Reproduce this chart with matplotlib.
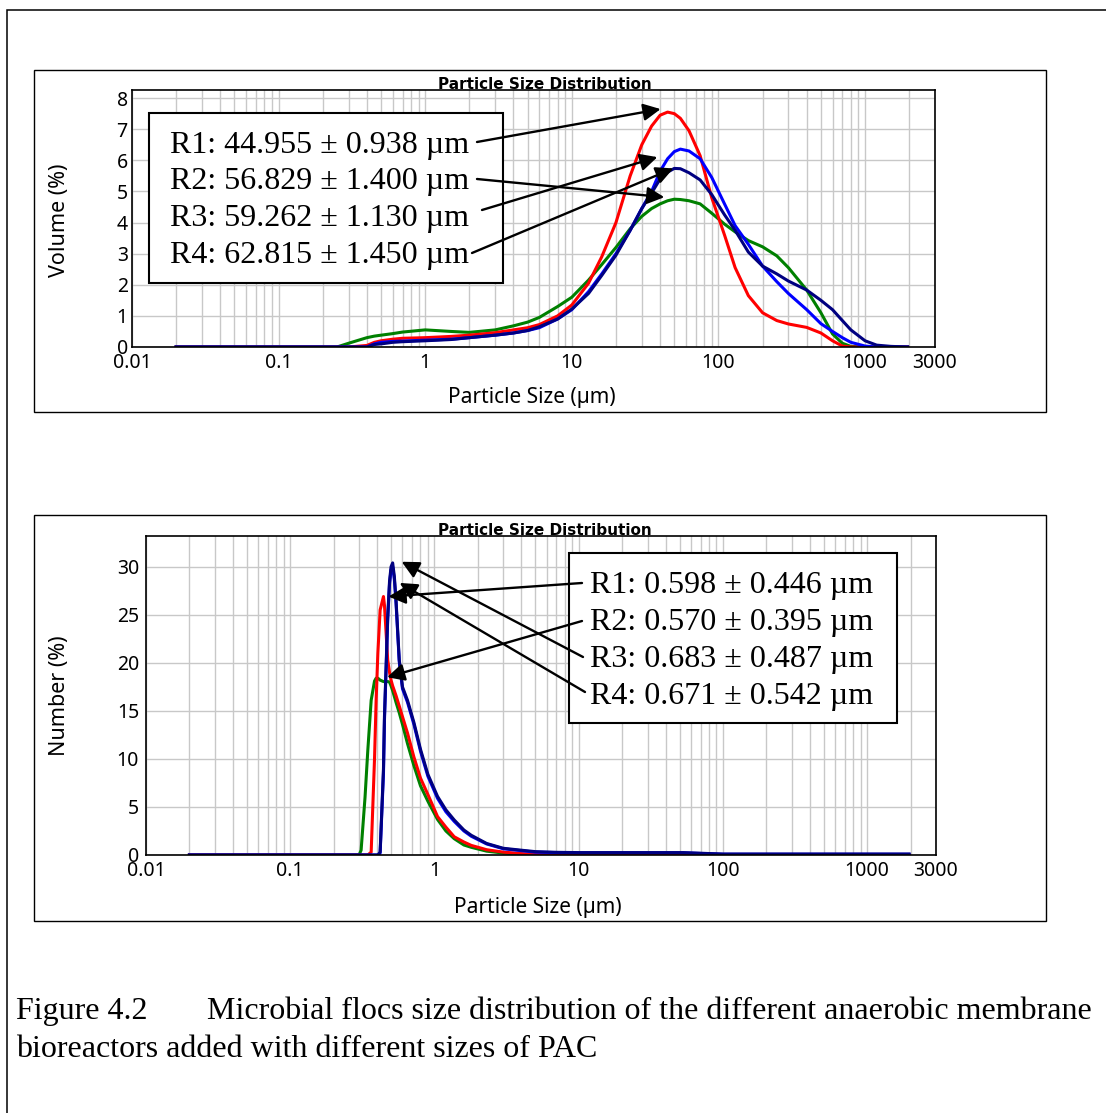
import matplotlib
matplotlib.use('Agg')
import matplotlib.pyplot as plt
import matplotlib.transforms as mtrans
from matplotlib.patches import Rectangle
from matplotlib.ticker import FixedLocator, FixedFormatter, LogLocator, NullFormatter
import numpy as np

plt.rcParams['font.family'] = ['Noto Sans', 'DejaVu Sans']

# ---- data: volume distribution (upper panel) ----
size_vol = [0.02, 0.25, 0.3, 0.4, 0.45, 0.5, 0.6, 0.7, 1, 1.5, 2, 3, 4, 5, 6, 8,
            10, 13, 16, 20, 25, 30, 35, 40, 45, 50, 55, 63, 75, 90, 110, 130,
            160, 200, 250, 300, 400, 500, 600, 700, 800, 1000, 1200, 1500, 1950]
r1_vol = [0, 0, 0, 0.05, 0.15, 0.2, 0.25, 0.28, 0.3, 0.34, 0.38, 0.46, 0.55, 0.62, 0.72, 1.0,
          1.35, 2.05, 2.9, 4.0, 5.5, 6.5, 7.1, 7.45, 7.55, 7.5, 7.35, 6.95, 6.15, 4.8, 3.6, 2.55,
          1.65, 1.1, 0.85, 0.74, 0.63, 0.45, 0.2, 0.03, 0, 0, 0, 0, 0]
r2_vol = [0, 0, 0.12, 0.3, 0.35, 0.38, 0.43, 0.48, 0.55, 0.5, 0.47, 0.55, 0.68, 0.8, 0.95, 1.3,
          1.6, 2.15, 2.65, 3.2, 3.8, 4.2, 4.45, 4.6, 4.7, 4.75, 4.74, 4.7, 4.6, 4.3, 3.95, 3.7,
          3.42, 3.22, 2.93, 2.55, 1.83, 1.1, 0.42, 0.12, 0.02, 0, 0, 0, 0]
r3_vol = [0, 0, 0, 0, 0.1, 0.15, 0.18, 0.19, 0.22, 0.25, 0.3, 0.38, 0.45, 0.53, 0.62, 0.9,
          1.2, 1.78, 2.35, 3.0, 3.75, 4.45, 5.0, 5.65, 6.05, 6.28, 6.36, 6.3, 6.05, 5.45, 4.6, 3.9,
          3.3, 2.6, 2.1, 1.72, 1.2, 0.75, 0.5, 0.3, 0.15, 0.03, 0, 0, 0]
r4_vol = [0, 0, 0, 0, 0.08, 0.1, 0.15, 0.17, 0.2, 0.24, 0.3, 0.38, 0.45, 0.53, 0.65, 0.9,
          1.22, 1.72, 2.3, 2.95, 3.75, 4.45, 4.95, 5.4, 5.62, 5.74, 5.73, 5.6, 5.37, 4.9, 4.25, 3.75,
          3.05, 2.6, 2.35, 2.12, 1.83, 1.5, 1.2, 0.85, 0.55, 0.2, 0.06, 0.02, 0]

# ---- data: number distribution (lower panel) ----
size_num = [0.02, 0.3, 0.31, 0.33, 0.345, 0.364, 0.384, 0.394, 0.405, 0.42, 0.443, 0.45, 0.474, 0.488, 0.5, 0.513,
            0.527, 0.541, 0.57, 0.6, 0.65, 0.72, 0.8, 0.9, 1.05, 1.2, 1.37, 1.6, 1.8, 2.3, 3, 4,
            5, 7, 10, 20, 30, 53, 100, 300, 1000, 1950]
r1_num = [0, 0, 0, 0, 0, 0.3, 10, 16.1, 21, 25.5, 26.9, 26, 20.3, 19, 18.2, 17.6,
          17.1, 16.6, 15.5, 14.4, 12.7, 10.2, 8.0, 6.3, 4.0, 2.9, 1.9, 1.35, 1.0, 0.55, 0.3, 0.15,
          0.08, 0.03, 0, 0, 0, 0, 0, 0, 0, 0]
r2_num = [0, 0, 0.5, 6, 10.9, 16.1, 18.1, 18.4, 18.4, 18.2, 18.05, 18.05, 18.05, 18.0, 17.6, 17.1,
          16.5, 15.9, 14.8, 13.6, 11.6, 9.3, 7.2, 5.6, 3.7, 2.5, 1.7, 1.04, 0.8, 0.4, 0.2, 0.08,
          0.03, 0, 0, 0, 0, 0, 0, 0, 0, 0]
r3_num = [0, 0, 0, 0, 0, 0, 0, 0, 0, 0.2, 8.5, 14, 24.5, 28.2, 29.7, 30.0,
          28.7, 26.3, 20.1, 17.3, 15.9, 13.6, 10.8, 8.2, 5.9, 4.5, 3.5, 2.5, 1.95, 1.15, 0.65, 0.45,
          0.3, 0.25, 0.22, 0.22, 0.22, 0.22, 0.08, 0.08, 0.08, 0.08]
r4_num = [0, 0, 0, 0, 0, 0, 0, 0, 0, 0.3, 9, 14.4, 24.8, 28.5, 30.0, 30.4,
          29.0, 26.6, 20.3, 17.5, 16.1, 13.8, 11.0, 8.4, 6.1, 4.7, 3.65, 2.6, 2.05, 1.2, 0.7, 0.5,
          0.35, 0.28, 0.25, 0.25, 0.25, 0.25, 0.1, 0.1, 0.1, 0.1]

vol_labels = ['R1: 44.955 \u00b1 0.938 \u00b5m', 'R2: 56.829 \u00b1 1.400 \u00b5m',
              'R3: 59.262 \u00b1 1.130 \u00b5m', 'R4: 62.815 \u00b1 1.450 \u00b5m']
num_labels = ['R1: 0.598 \u00b1 0.446 \u00b5m', 'R2: 0.570 \u00b1 0.395 \u00b5m',
              'R3: 0.683 \u00b1 0.487 \u00b5m', 'R4: 0.671 \u00b1 0.542 \u00b5m']

xtick_vals = [0.01, 0.1, 1, 10, 100, 1000, 3000]
xtick_labels = ['0.01', '0.1', '1', '10', '100', '1000', '3000']
colors = ['red', 'green', 'blue', 'navy']

W, H = 1106, 1113


def fx(px):
    return px / W


def fy(py):
    return 1 - py / H


fig = plt.figure(figsize=(W / 100, H / 100), dpi=100)

# outer page frame and panel frames
fig.add_artist(Rectangle((fx(7), fy(1300)), 1.2, 1290 / H, transform=fig.transFigure,
                         fill=False, ec='black', lw=1.1))
for top, bot in [(70, 412), (515, 921)]:
    fig.add_artist(Rectangle((fx(34), fy(bot)), (1046 - 34) / W, (bot - top) / H,
                             transform=fig.transFigure, fill=False, ec='black', lw=1.0))


def setup(ax, ymax, yticks, ypad):
    ax.set_xscale('log')
    ax.set_xlim(0.01, 3000)
    ax.set_ylim(0, ymax)
    ax.xaxis.set_major_locator(FixedLocator(xtick_vals))
    ax.xaxis.set_major_formatter(FixedFormatter(xtick_labels))
    ax.xaxis.set_minor_locator(LogLocator(base=10, subs=np.arange(2, 10), numticks=30))
    ax.xaxis.set_minor_formatter(NullFormatter())
    ax.set_yticks(yticks)
    ax.tick_params(which='both', length=0, labelsize=14)
    ax.tick_params(axis='x', pad=4)
    ax.tick_params(axis='y', pad=ypad)
    ax.set_axisbelow(True)
    ax.grid(True, which='both', axis='x', color='#c8c8c8', lw=1.0)
    ax.grid(True, which='major', axis='y', color='#c8c8c8', lw=1.0)
    for s in ax.spines.values():
        s.set_linewidth(1.2)
        s.set_color('black')


ax1 = fig.add_axes([fx(132), fy(347), (935 - 132) / W, (347 - 90) / H])
setup(ax1, 8.26, range(0, 9), 3)
ax2 = fig.add_axes([fx(146), fy(855), (936 - 146) / W, (855 - 536) / H])
setup(ax2, 33.2, range(0, 31, 5), 5)

vol_series = [r1_vol, r2_vol, r3_vol, r4_vol]
num_series = [r1_num, r2_num, r3_num, r4_num]
for i in [1, 0, 2, 3]:
    ax1.plot(size_vol, vol_series[i], color=colors[i], lw=2.2)
    ax2.plot(size_num, num_series[i], color=colors[i], lw=2.2)

# titles and axis labels
for y in [89, 535]:
    fig.text(fx(545), fy(y), 'Particle Size Distribution', ha='center', va='baseline',
             weight='bold', size=11, family='DejaVu Sans')
fig.text(fx(59), fy(220), 'Volume (%)', rotation=90, ha='center', va='center', size=15.5)
fig.text(fx(59), fy(696), 'Number (%)', rotation=90, ha='center', va='center', size=15.5)
fig.text(fx(532), fy(398), 'Particle Size (\u00b5m)', ha='center', va='center', size=15)
fig.text(fx(538), fy(907), 'Particle Size (\u00b5m)', ha='center', va='center', size=15)

serif = ['Liberation Serif', 'DejaVu Serif']
ftr = fig.transFigure


def text_box(ax, left, top, right, bottom, x0, baselines, labels):
    ax.add_patch(Rectangle((fx(left), fy(bottom)), (right - left) / W, (bottom - top) / H,
                           transform=ftr, fc='white', ec='black', lw=1.5,
                           clip_on=False, zorder=3))
    for lab, yb in zip(labels, baselines):
        ax.text(fx(x0), fy(yb), lab, transform=ftr, va='baseline', family=serif,
                size=23, zorder=4, clip_on=False)


text_box(ax1, 149, 113, 503, 283, 170, [153, 189.5, 226, 263], vol_labels)
text_box(ax2, 569, 553, 897, 723, 590, [593, 630, 667, 704], num_labels)

# (tail in page pixels, series index, tip offset in pixels)
vol_arrows = [((477, 142), 0, (-7, 3)), ((477, 179), 1, (-10, 2)),
              ((482, 210), 2, (-23, -8)), ((472, 253), 3, (-1, 0))]
num_arrows = [((582, 583), 0, (5, 0)), ((582, 621), 1, (11, 1)),
              ((583, 657), 2, (9, 5)), ((585, 692), 3, (7, -20))]


def draw_arrows(ax, xs, series, arrows):
    for (tx, ty), k, (dx, dy) in arrows:
        ys = np.array(series[k])
        j = int(np.argmax(ys))
        tr = mtrans.offset_copy(ax.transData, fig=fig, x=dx, y=dy, units='dots')
        ax.annotate('', xy=(xs[j], ys[j]), xycoords=tr,
                    xytext=(tx, H - ty), textcoords='figure pixels',
                    arrowprops=dict(arrowstyle='-|>', color='black', lw=1.7,
                                    mutation_scale=26, shrinkA=0, shrinkB=0),
                    zorder=5, annotation_clip=False)


draw_arrows(ax1, size_vol, vol_series, vol_arrows)
draw_arrows(ax2, size_num, num_series, num_arrows)

# caption
fig.text(fx(16), fy(1019), 'Figure 4.2', va='baseline', family=serif, size=23)
fig.text(fx(207), fy(1019), 'Microbial flocs size distribution of the different anaerobic membrane',
         va='baseline', family=serif, size=23)
fig.text(fx(16), fy(1057), 'bioreactors added with different sizes of PAC', va='baseline',
         family=serif, size=23)

fig.savefig('out.png', dpi=100)
